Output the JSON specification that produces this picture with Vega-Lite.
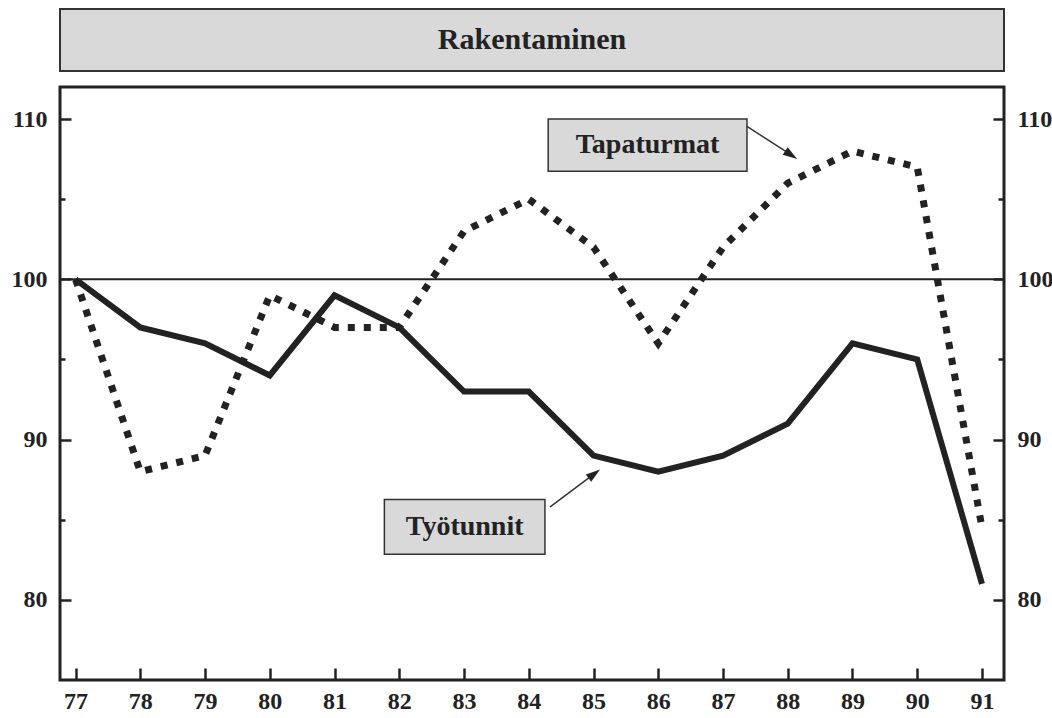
{
  "$schema": "https://vega.github.io/schema/vega-lite/v6.json",
  "background": "white",
  "padding": {"left": 9, "top": 8, "right": 0, "bottom": 0},
  "bounds": "flush",
  "spacing": 16,
  "config": {
    "font": "Liberation Serif",
    "axis": {
      "domain": false,
      "grid": false,
      "labelFont": "Liberation Serif",
      "labelFontWeight": "bold",
      "labelFontSize": 24,
      "labelColor": "#222222",
      "tickColor": "#222222",
      "tickWidth": 2.5
    }
  },
  "datasets": {
    "series": [
      {"year": 77, "series": "Työtunnit", "value": 100},
      {"year": 78, "series": "Työtunnit", "value": 97},
      {"year": 79, "series": "Työtunnit", "value": 96},
      {"year": 80, "series": "Työtunnit", "value": 94},
      {"year": 81, "series": "Työtunnit", "value": 99},
      {"year": 82, "series": "Työtunnit", "value": 97},
      {"year": 83, "series": "Työtunnit", "value": 93},
      {"year": 84, "series": "Työtunnit", "value": 93},
      {"year": 85, "series": "Työtunnit", "value": 89},
      {"year": 86, "series": "Työtunnit", "value": 88},
      {"year": 87, "series": "Työtunnit", "value": 89},
      {"year": 88, "series": "Työtunnit", "value": 91},
      {"year": 89, "series": "Työtunnit", "value": 96},
      {"year": 90, "series": "Työtunnit", "value": 95},
      {"year": 91, "series": "Työtunnit", "value": 81},
      {"year": 77, "series": "Tapaturmat", "value": 100},
      {"year": 78, "series": "Tapaturmat", "value": 88},
      {"year": 79, "series": "Tapaturmat", "value": 89},
      {"year": 80, "series": "Tapaturmat", "value": 99},
      {"year": 81, "series": "Tapaturmat", "value": 97},
      {"year": 82, "series": "Tapaturmat", "value": 97},
      {"year": 83, "series": "Tapaturmat", "value": 103},
      {"year": 84, "series": "Tapaturmat", "value": 105},
      {"year": 85, "series": "Tapaturmat", "value": 102},
      {"year": 86, "series": "Tapaturmat", "value": 96},
      {"year": 87, "series": "Tapaturmat", "value": 102},
      {"year": 88, "series": "Tapaturmat", "value": 106},
      {"year": 89, "series": "Tapaturmat", "value": 108},
      {"year": 90, "series": "Tapaturmat", "value": 107},
      {"year": 91, "series": "Tapaturmat", "value": 84.5}
    ],
    "boxes": [
      {"label": "Tapaturmat", "x": 84.30, "x2": 87.37, "y": 110.0, "y2": 106.74, "tx": 85.835, "ty": 108.37},
      {"label": "Työtunnit", "x": 81.77, "x2": 84.25, "y": 86.27, "y2": 82.84, "tx": 83.01, "ty": 84.55}
    ],
    "arrows": [
      {"label": "Tapaturmat", "x": 87.37, "y": 109.54, "x2": 88.03, "y2": 107.82},
      {"label": "Työtunnit", "x": 84.33, "y": 85.80, "x2": 84.99, "y2": 87.80}
    ]
  },
  "vconcat": [
    {
      "width": 944,
      "height": 62,
      "view": {"fill": "#d9d9d9", "stroke": "#333333", "strokeWidth": 2},
      "data": {"values": [{"label": "Rakentaminen"}]},
      "mark": {"type": "text", "font": "Liberation Serif", "fontSize": 30, "fontWeight": "bold", "color": "#222222"},
      "encoding": {"text": {"field": "label"}}
    },
    {
      "width": 944,
      "height": 593,
      "view": {"stroke": "#222222", "strokeWidth": 3},
      "resolve": {"scale": {"y": "independent"}},
      "layer": [
        {
          "layer": [
            {
              "data": {"name": "series"},
              "transform": [{"filter": "datum.series === 'Tapaturmat'"}],
              "mark": {"type": "line", "color": "#222222", "strokeWidth": 7, "strokeDash": [7, 9], "strokeCap": "butt", "strokeJoin": "miter"},
              "encoding": {
                "x": {"field": "year", "type": "quantitative", "title": null,
                  "scale": {"domain": [76.76, 91.34], "nice": false, "zero": false},
                  "axis": {"values": [77, 78, 79, 80, 81, 82, 83, 84, 85, 86, 87, 88, 89, 90, 91], "format": "d", "tickSize": -12, "labelPadding": 21, "labelFontSize": 24, "labelFontWeight": "bold"}},
                "y": {"field": "value", "type": "quantitative", "title": null,
                  "scale": {"domain": [75, 112], "nice": false, "zero": false},
                  "axis": {"orient": "left", "values": [80, 85, 90, 95, 100, 105, 110],
                    "labelExpr": "datum.value % 10 === 0 ? datum.label : ''",
                    "tickSize": {"condition": {"test": "datum.value % 10 !== 0", "value": -5}, "value": -11},
                    "labelPadding": 24, "labelFontSize": 24, "labelFontWeight": "bold"}}
              }
            },
            {
              "data": {"name": "series"},
              "transform": [{"filter": "datum.series === 'Työtunnit'"}],
              "mark": {"type": "line", "color": "#222222", "strokeWidth": 6, "strokeJoin": "miter"},
              "encoding": {
                "x": {"field": "year", "type": "quantitative", "title": null, "scale": {"domain": [76.76, 91.34], "nice": false, "zero": false}},
                "y": {"field": "value", "type": "quantitative", "title": null, "scale": {"domain": [75, 112], "nice": false, "zero": false}}
              }
            },
            {
              "data": {"name": "boxes"},
              "mark": {"type": "rect", "fill": "#d9d9d9", "stroke": "#333333", "strokeWidth": 1.5},
              "encoding": {
                "x": {"field": "x", "type": "quantitative", "title": null, "scale": {"domain": [76.76, 91.34], "nice": false, "zero": false}},
                "x2": {"field": "x2"},
                "y": {"field": "y", "type": "quantitative", "title": null, "scale": {"domain": [75, 112], "nice": false, "zero": false}},
                "y2": {"field": "y2"}
              }
            },
            {
              "data": {"name": "boxes"},
              "mark": {"type": "text", "font": "Liberation Serif", "fontSize": 28, "fontWeight": "bold", "color": "#222222"},
              "encoding": {
                "x": {"field": "tx", "type": "quantitative", "title": null, "scale": {"domain": [76.76, 91.34], "nice": false, "zero": false}},
                "y": {"field": "ty", "type": "quantitative", "title": null, "scale": {"domain": [75, 112], "nice": false, "zero": false}},
                "text": {"field": "label"}
              }
            },
            {
              "data": {"name": "arrows"},
              "mark": {"type": "rule", "color": "#333333", "strokeWidth": 1.5},
              "encoding": {
                "x": {"field": "x", "type": "quantitative", "title": null, "scale": {"domain": [76.76, 91.34], "nice": false, "zero": false}},
                "x2": {"field": "x2"},
                "y": {"field": "y", "type": "quantitative", "title": null, "scale": {"domain": [75, 112], "nice": false, "zero": false}},
                "y2": {"field": "y2"}
              }
            },
            {
              "data": {"name": "arrows"},
              "transform": [{"filter": "datum.label === 'Tapaturmat'"}],
              "mark": {"type": "point", "shape": "M0,-1L0.5,0.6L-0.5,0.6Z", "size": 324, "filled": true, "color": "#222222", "opacity": 1, "angle": 123.4},
              "encoding": {
                "x": {"field": "x2", "type": "quantitative", "title": null, "scale": {"domain": [76.76, 91.34], "nice": false, "zero": false}},
                "y": {"field": "y2", "type": "quantitative", "title": null, "scale": {"domain": [75, 112], "nice": false, "zero": false}}
              }
            },
            {
              "data": {"name": "arrows"},
              "transform": [{"filter": "datum.label === 'Työtunnit'"}],
              "mark": {"type": "point", "shape": "M0,-1L0.5,0.6L-0.5,0.6Z", "size": 324, "filled": true, "color": "#222222", "opacity": 1, "angle": 53.5},
              "encoding": {
                "x": {"field": "x2", "type": "quantitative", "title": null, "scale": {"domain": [76.76, 91.34], "nice": false, "zero": false}},
                "y": {"field": "y2", "type": "quantitative", "title": null, "scale": {"domain": [75, 112], "nice": false, "zero": false}}
              }
            }
          ]
        },
        {
          "data": {"values": [{"level": 100}]},
          "mark": {"type": "rule", "color": "#222222", "strokeWidth": 2},
          "encoding": {
            "y": {"field": "level", "type": "quantitative", "title": null,
              "scale": {"domain": [75, 112], "nice": false, "zero": false},
              "axis": {"orient": "right", "values": [80, 85, 90, 95, 100, 105, 110],
                "labelExpr": "datum.value % 10 === 0 ? datum.label : ''",
                "tickSize": {"condition": {"test": "datum.value % 10 !== 0", "value": -6}, "value": -11},
                "labelPadding": 24, "labelFontSize": 24, "labelFontWeight": "bold"}}
          }
        }
      ]
    }
  ]
}
